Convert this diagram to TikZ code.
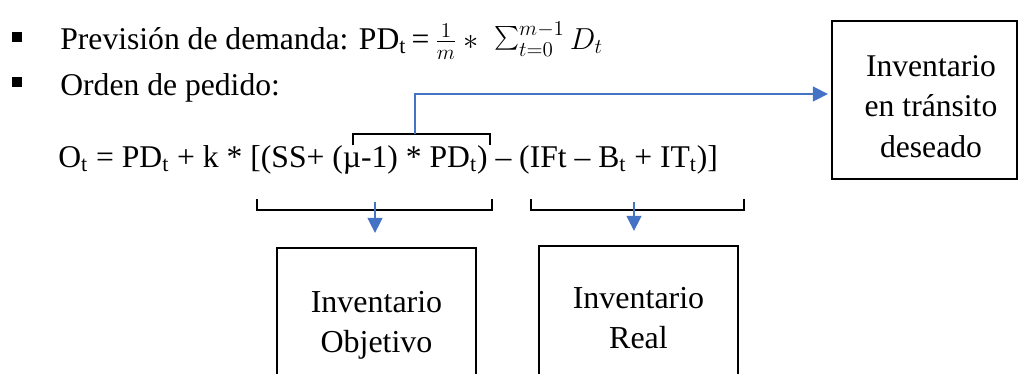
\documentclass[tikz,border=0pt]{standalone}
\usepackage{fontspec}
\setmainfont{Liberation Serif}
\newfontfamily\timesfont{Liberation Serif}
\usetikzlibrary{arrows.meta}
\definecolor{linkblue}{HTML}{4472C4}

\begin{document}
\begin{tikzpicture}[
    x=0.02cm, y=-0.02cm,
    txt/.style={inner sep=0pt, font=\timesfont\fontsize{18}{23}\selectfont},
    box/.style={draw, line width=1.3pt, align=center, inner sep=0pt,
                font=\timesfont\fontsize{18.2}{23}\selectfont},
    bullet/.style={fill=black, inner sep=0pt, minimum size=0.2cm},
    brace/.style={line width=1.4pt},
    link/.style={draw=linkblue, line width=0.7pt, -{Triangle[length=0.3cm, width=0.3cm]}}
]
\useasboundingbox (0,0) rectangle (1018,373);
\clip (0,0) rectangle (1018,373);

% bullet lines
\node[bullet] (bul1) at (17,37) {};
\node[bullet] (bul2) at (17,82) {};
\node[txt, anchor=base west] (prev) at (60,49)
    {Previsión de demanda: PD\textsubscript{t}\,=\,$\frac{1}{m} * \;\mathop{\scalebox{1.35}{$\sum$}}\nolimits_{t=0}^{m-1} D_t$};
\node[txt, anchor=base west] (orden) at (60,95) {Orden de pedido:};

% order formula
\node[txt, anchor=base west] (formula) at (58,167)
    {O\textsubscript{t} = PD\textsubscript{t} + k * [(SS+ (µ-1) * PD\textsubscript{t}) – (IFt – B\textsubscript{t} + IT\textsubscript{t})]};

% braces
\draw[brace] (353,145) -- (353,134) -- (490,134) -- (490,145);
\draw[brace] (257,199) -- (257,210) -- (492,210) -- (492,199);
\draw[brace] (531,199) -- (531,210) -- (744,210) -- (744,199);

% boxes
\node[box, minimum width=3.98cm, minimum height=3.1cm] (objetivo) at (376.5,325.5) {Inventario\\Objetivo};
\node[box, minimum width=3.98cm, minimum height=2.88cm] (real) at (638.5,318) {Inventario\\Real};
\node[box, minimum width=3.7cm, minimum height=3.16cm] (transito) at (924.5,100) {};
\node[txt, align=center] (transitolbl) at (931,106.5) {Inventario\\en tránsito\\deseado};

% links
\coordinate (tb) at (415,134);
\coordinate (knee) at (415,94);
\coordinate (ob) at (375,202);
\coordinate (rb) at (634,202);
\draw[link, shorten >=0.06cm] (tb) -- (knee) -- (knee -| transito.west);
\draw[link, shorten >=0.28cm] (ob) -- (ob |- objetivo.north);
\draw[link, shorten >=0.28cm] (rb) -- (rb |- real.north);
\end{tikzpicture}
\end{document}
